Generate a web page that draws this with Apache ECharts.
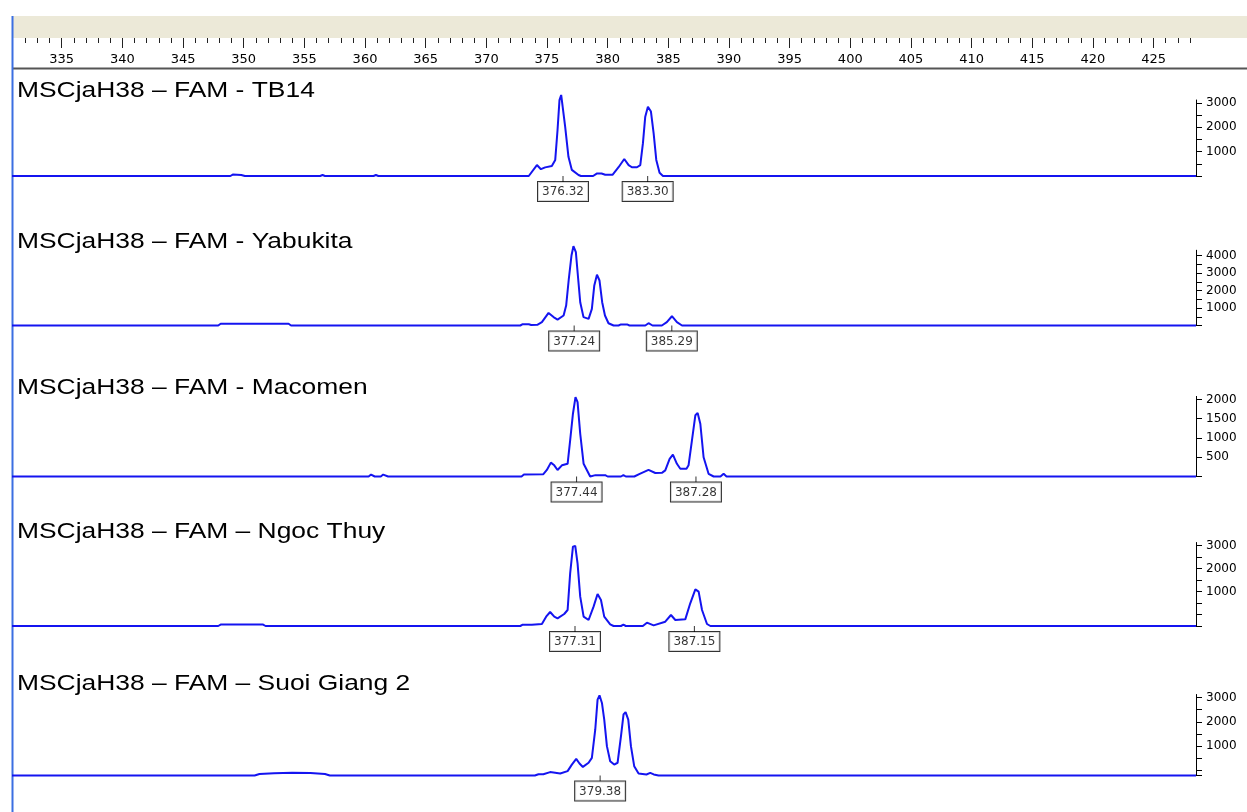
<!DOCTYPE html>
<html>
<head>
<meta charset="utf-8">
<title>MSCjaH38 – FAM</title>
<script src="https://cdn.jsdelivr.net/npm/echarts@6/dist/echarts.min.js"></script>
<style>
html,body{margin:0;padding:0;background:#fff;}
#chart{width:1247px;height:812px;}
</style>
</head>
<body>
<div id="chart"></div>
<script>
/*
 * 数据: 峰形 (size bp / RFU)
 */
var titles = [
	'MSCjaH38 – FAM - TB14',
	'MSCjaH38 – FAM - Yabukita',
	'MSCjaH38 – FAM - Macomen',
	'MSCjaH38 – FAM – Ngoc Thuy',
	'MSCjaH38 – FAM – Suoi Giang 2'
];

var size1 = [330.9, 348.9, 349.1, 349.8, 350.1, 356.3, 356.5, 356.7, 360.7, 360.9, 361.1, 373.5, 374.17, 374.5, 374.85, 375.4, 375.68, 375.87, 376.03, 376.17, 376.31, 376.5, 376.77, 377.05, 377.6, 377.8, 378.8, 379.1, 379.5, 379.8, 380.4, 380.9, 381.37, 381.73, 382.0, 382.42, 382.69, 382.91, 383.1, 383.32, 383.57, 383.79, 384.01, 384.28, 384.56, 428.5];
var rfu1 = [0, 0, 60, 40, 0, 0, 40, 0, 0, 40, 0, 0, 450, 280, 355, 410, 660, 1890, 3120, 3330, 3260, 2020, 790, 250, 40, 0, 0, 100, 100, 50, 50, 360, 700, 450, 360, 360, 450, 1350, 2440, 2850, 2650, 1760, 660, 130, 0, 0];

var size2 = [330.9, 347.9, 348.1, 353.7, 353.9, 372.8, 373.0, 373.5, 373.7, 374.2, 374.58, 375.13, 375.54, 375.87, 376.37, 376.58, 376.8, 377.02, 377.18, 377.38, 377.57, 377.74, 378.01, 378.43, 378.7, 378.9, 379.12, 379.33, 379.55, 379.78, 380.07, 380.49, 380.9, 381.1, 381.6, 381.8, 383.1, 383.37, 383.7, 384.47, 384.88, 385.3, 385.71, 386.13, 428.5];
var rfu2 = [0, 0, 100, 100, 0, 0, 75, 75, 30, 40, 190, 720, 480, 340, 570, 1140, 2670, 4000, 4530, 4190, 2670, 1330, 480, 380, 950, 2290, 2900, 2570, 1330, 570, 130, 0, 0, 60, 60, 0, 0, 130, 0, 0, 190, 530, 190, 0, 0];

var size3 = [330.9, 360.3, 360.5, 360.8, 361.3, 361.5, 361.9, 372.9, 373.1, 374.7, 374.99, 375.32, 375.6, 375.87, 376.23, 376.7, 376.91, 377.14, 377.35, 377.52, 377.74, 378.02, 378.56, 379.0, 379.8, 380.0, 381.1, 381.3, 381.5, 382.2, 382.6, 383.37, 383.93, 384.5, 384.75, 385.11, 385.38, 385.71, 385.99, 386.5, 386.67, 386.95, 387.23, 387.42, 387.64, 387.91, 388.32, 388.74, 389.3, 389.56, 389.8, 428.5];
var rfu3 = [0, 0, 50, 0, 0, 50, 0, 0, 50, 60, 170, 360, 290, 170, 290, 330, 940, 1630, 2060, 1930, 1110, 330, 0, 35, 35, 0, 0, 35, 0, 0, 60, 170, 90, 100, 160, 460, 570, 330, 200, 200, 290, 940, 1590, 1650, 1370, 500, 70, 0, 0, 70, 0, 0];

var size4 = [330.9, 347.9, 348.1, 351.6, 351.8, 372.8, 373.0, 373.75, 374.58, 374.93, 375.26, 375.6, 375.87, 376.42, 376.7, 376.91, 377.14, 377.33, 377.52, 377.74, 378.02, 378.43, 378.84, 379.17, 379.45, 379.72, 380.21, 380.49, 381.1, 381.3, 381.5, 382.9, 383.24, 383.79, 384.75, 385.22, 385.58, 386.4, 386.81, 387.23, 387.5, 387.78, 388.19, 388.47, 428.5];
var rfu4 = [-500, -500, -440, -440, -500, -500, -442, -442, -413, -94, 109, -94, -167, 22, 196, 1790, 2949, 2978, 2225, 775, -94, -239, 341, 891, 630, -94, -428, -500, -500, -442, -500, -500, -355, -471, -312, -22, -239, -210, 486, 1094, 993, 196, -413, -500, -500];

var size5 = [330.9, 350.9, 351.3, 352.5, 354.0, 355.5, 356.7, 357.1, 374.0, 374.3, 374.7, 375.26, 376.09, 376.7, 377.05, 377.41, 377.68, 377.96, 378.43, 378.7, 378.98, 379.17, 379.33, 379.53, 379.72, 379.94, 380.21, 380.54, 380.82, 381.1, 381.31, 381.48, 381.7, 381.92, 382.19, 382.55, 383.2, 383.51, 383.8, 384.2, 428.5];
var rfu5 = [-200, -200, -136, -104, -83, -93, -136, -200, -200, -147, -147, -61, -120, -19, 248, 483, 291, 152, 323, 525, 1688, 2915, 3085, 2776, 2093, 1005, 387, 248, 323, 1411, 2307, 2403, 2093, 1005, 184, -120, -157, -93, -157, -200, -200];

// 峰标注 (allele calls)
var calls1 = [376.32, 383.30];
var calls2 = [377.24, 385.29];
var calls3 = [377.44, 387.28];
var calls4 = [377.31, 387.15];
var calls5 = [379.38];

// 右侧纵轴刻度
var yLabels1 = [1000, 2000, 3000];
var yTicks1 = [0, 500, 1000, 1500, 2000, 2500, 3000];
var yLabels2 = [1000, 2000, 3000, 4000];
var yTicks2 = [0, 500, 1000, 1500, 2000, 2500, 3000, 3500, 4000];
var yLabels3 = [500, 1000, 1500, 2000];
var yTicks3 = [0, 500, 1000, 1500, 2000];
var yLabels4 = [1000, 2000, 3000];
var yTicks4 = [-500, 0, 500, 1000, 1500, 2000, 2500, 3000];
var yLabels5 = [1000, 2000, 3000];
var yTicks5 = [-200, 0, 500, 1000, 1500, 2000, 2500, 3000];

// 顶部标尺
var rulerLabels = [335, 340, 345, 350, 355, 360, 365, 370, 375, 380, 385, 390, 395, 400, 405, 410, 415, 420, 425];

var sizes = [size1, size2, size3, size4, size5];
var rfus = [rfu1, rfu2, rfu3, rfu4, rfu5];
var calls = [calls1, calls2, calls3, calls4, calls5];
var yLabels = [yLabels1, yLabels2, yLabels3, yLabels4, yLabels5];
var yTicks = [yTicks1, yTicks2, yTicks3, yTicks4, yTicks5];

/*
 * 布局
 */
var xMin = 330.9, xMax = 428.5;
var panelBox = [
	{top: 100, height: 76, min: 0, max: 3124, titleY: 91},
	{top: 250.25, height: 75.25, min: 0, max: 4300, titleY: 242},
	{top: 396.4, height: 80.1, min: 0, max: 2080, titleY: 388},
	{top: 542.5, height: 83.5, min: -500, max: 3130, titleY: 532},
	{top: 694.5, height: 81, min: -200, max: 3123, titleY: 684}
];
var smallFont = 'DejaVu Sans';
var traceColor = '#1414f0';

var rulerMinor = [];
for (var t = 332; t <= 428; t++) rulerMinor.push(t);

var grids = [], xAxes = [], yAxes = [], series = [];
var graphics = [
	{type: 'rect', shape: {x: 13, y: 16, width: 1234, height: 22}, style: {fill: '#ece9d8'}},
	{type: 'rect', shape: {x: 13, y: 67.5, width: 1234, height: 2}, style: {fill: '#555'}},
	{type: 'line', shape: {x1: 12.5, y1: 16, x2: 12.5, y2: 812}, style: {stroke: '#3b6fe2', lineWidth: 2}}
];

for (var i = 0; i < 5; i++) {
	var b = panelBox[i];
	grids.push({left: 12, right: 51, top: b.top, height: b.height});
	xAxes.push({type: 'value', gridIndex: i, min: xMin, max: xMax, show: false});
	yAxes.push({
		type: 'value', gridIndex: i, position: 'right', min: b.min, max: b.max,
		axisLine: {show: true, onZero: false, lineStyle: {color: '#000', width: 1}},
		axisTick: {show: true, length: 6, customValues: yTicks[i], lineStyle: {color: '#000'}},
		axisLabel: {
			show: true, margin: 10, customValues: yLabels[i],
			formatter: function (v) { return String(v); },
			fontSize: 12, fontFamily: smallFont, color: '#000'
		},
		splitLine: {show: false}
	});
	var pts = [];
	for (var k = 0; k < sizes[i].length; k++) pts.push([sizes[i][k], rfus[i][k]]);
	series.push({
		type: 'line', xAxisIndex: i, yAxisIndex: i, data: pts,
		showSymbol: false, clip: false, silent: true,
		lineStyle: {color: traceColor, width: 2}
	});
	series.push({
		type: 'scatter', xAxisIndex: i, yAxisIndex: i, clip: false, silent: true,
		data: calls[i].map(function (c) { return [c, b.min]; }),
		symbol: 'rect', symbolSize: [1, 6], symbolOffset: [0, 3],
		itemStyle: {color: '#000'},
		label: {
			show: true, position: 'bottom', distance: 0,
			formatter: function (p) { return p.value[0].toFixed(2); },
			fontSize: 12, fontFamily: smallFont, color: '#000',
			backgroundColor: '#fff', borderColor: '#000', borderWidth: 1,
			padding: [4, 4, 3, 4]
		}
	});
	graphics.push({
		type: 'text', x: 17, y: b.titleY, scaleX: 1.2,
		style: {text: titles[i], fontSize: 22, fontFamily: 'Liberation Sans', fill: '#000', verticalAlign: 'middle'}
	});
}

// 标尺: 小刻度 / 大刻度+数字
grids.push({left: 12, right: 51, top: 38, height: 30});
grids.push({left: 12, right: 51, top: 38, height: 30});
xAxes.push({
	type: 'value', gridIndex: 5, position: 'top', min: xMin, max: xMax,
	axisLine: {show: false, onZero: false},
	axisTick: {show: true, inside: true, length: 5, customValues: rulerMinor, lineStyle: {color: '#222'}},
	axisLabel: {show: false}, splitLine: {show: false}
});
xAxes.push({
	type: 'value', gridIndex: 6, position: 'top', min: xMin, max: xMax,
	axisLine: {show: false, onZero: false},
	axisTick: {show: true, inside: true, length: 10, customValues: rulerLabels, lineStyle: {color: '#222'}},
	axisLabel: {show: true, inside: true, margin: 15, customValues: rulerLabels, fontSize: 13, fontFamily: smallFont, color: '#000'},
	splitLine: {show: false}
});
yAxes.push({type: 'value', gridIndex: 5, show: false});
yAxes.push({type: 'value', gridIndex: 6, show: false});

var chart = echarts.init(document.getElementById('chart'));
chart.setOption({
	animation: false,
	backgroundColor: '#fff',
	grid: grids,
	xAxis: xAxes,
	yAxis: yAxes,
	series: series,
	graphic: graphics
});

window.onresize = function () {
	chart.resize();
};
</script>
</body>
</html>
